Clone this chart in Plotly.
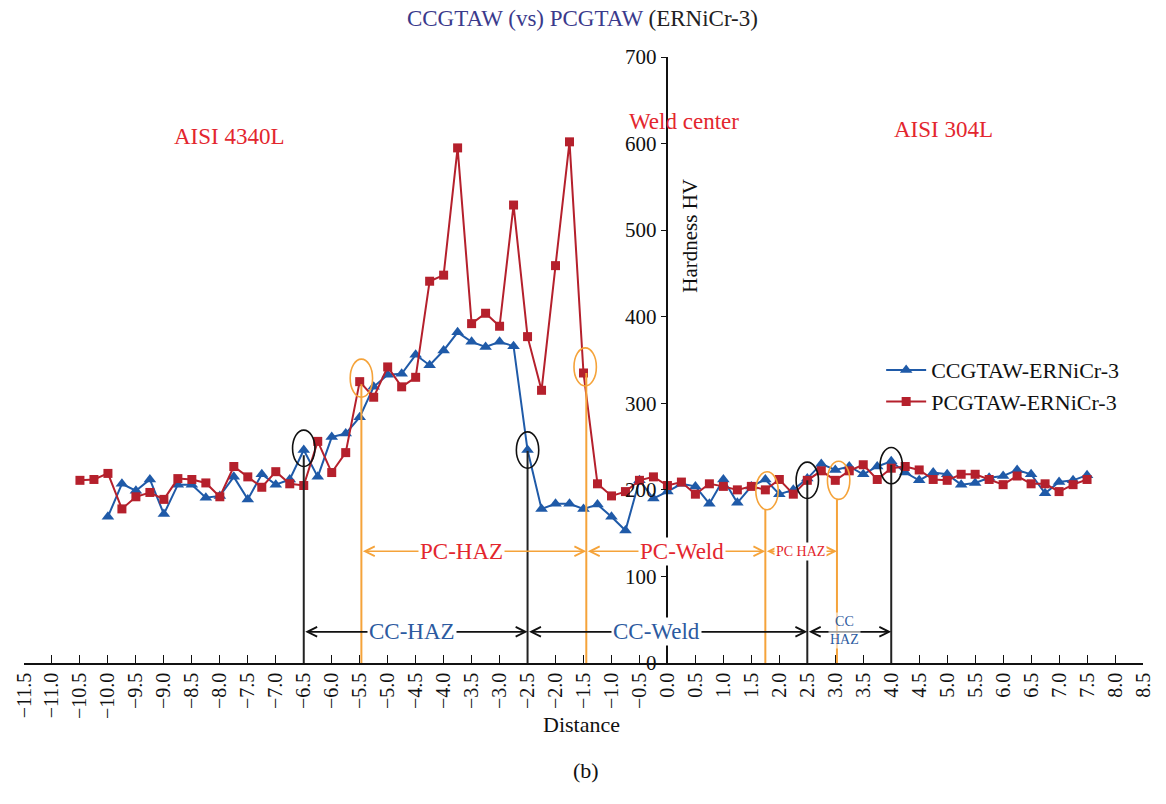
import plotly.graph_objects as go

# ---------------- data ----------------
dist_pc = [-10.5, -10.25, -10.0, -9.75, -9.5, -9.25, -9.0, -8.75, -8.5, -8.25,
           -8.0, -7.75, -7.5, -7.25, -7.0, -6.75, -6.5, -6.25, -6.0, -5.75,
           -5.5, -5.25, -5.0, -4.75, -4.5, -4.25, -4.0, -3.75, -3.5, -3.25,
           -3.0, -2.75, -2.5, -2.25, -2.0, -1.75, -1.5, -1.25, -1.0, -0.75,
           -0.5, -0.25, 0.0, 0.25, 0.5, 0.75, 1.0, 1.25, 1.5, 1.75,
           2.0, 2.25, 2.5, 2.75, 3.0, 3.25, 3.5, 3.75, 4.0, 4.25,
           4.5, 4.75, 5.0, 5.25, 5.5, 5.75, 6.0, 6.25, 6.5, 6.75,
           7.0, 7.25, 7.5]
hv_pc = [211, 212, 219, 178, 192, 197, 189, 213, 212, 208,
         192, 227, 215, 203, 221, 207, 205, 256, 220, 243,
         325, 307, 342, 319, 330, 441, 448, 595, 392, 404,
         389, 529, 377, 315, 459, 602, 335, 207, 193, 198,
         211, 215, 205, 209, 195, 207, 204, 200, 204, 200,
         212, 195, 211, 222, 211, 222, 229, 212, 225, 227,
         223, 212, 211, 218, 218, 212, 206, 216, 207, 207,
         198, 206, 212]

dist_cc = [-10.0, -9.75, -9.5, -9.25, -9.0, -8.75, -8.5, -8.25,
           -8.0, -7.75, -7.5, -7.25, -7.0, -6.75, -6.5, -6.25, -6.0, -5.75,
           -5.5, -5.25, -5.0, -4.75, -4.5, -4.25, -4.0, -3.75, -3.5, -3.25,
           -3.0, -2.75, -2.5, -2.25, -2.0, -1.75, -1.5, -1.25, -1.0, -0.75,
           -0.5, -0.25, 0.0, 0.25, 0.5, 0.75, 1.0, 1.25, 1.5, 1.75,
           2.0, 2.25, 2.5, 2.75, 3.0, 3.25, 3.5, 3.75, 4.0, 4.25,
           4.5, 4.75, 5.0, 5.25, 5.5, 5.75, 6.0, 6.25, 6.5, 6.75,
           7.0, 7.25, 7.5]
hv_cc = [169, 207, 199, 212, 172, 206, 206, 191,
         193, 215, 189, 218, 206, 212, 246, 215, 261, 265,
         284, 319, 333, 334, 356, 344, 361, 382, 371, 365,
         371, 366, 246, 178, 184, 184, 178, 183, 169, 153,
         211, 190, 198, 207, 204, 184, 212, 185, 204, 212,
         195, 200, 213, 230, 223, 227, 218, 227, 233, 220,
         211, 220, 218, 206, 208, 214, 216, 223, 218, 196,
         209, 211, 217]

# boundary markers: (x, top of line)
cc_bounds = [(-6.5, 240), (-2.5, 245), (2.5, 211), (4.0, 229)]
pc_bounds = [(-5.47, 322), (-1.45, 335), (1.75, 177), (3.03, 189)]
# circles: (cx, cy)
cc_circles = [(-6.5, 248), (-2.5, 246), (2.5, 211), (4.0, 228)]
pc_circles = [(-5.47, 329), (-1.47, 342), (1.78, 199), (3.06, 211)]

pc_zones = [("PC-HAZ", -5.47, -1.45, -3.68), ("PC-Weld", -1.45, 1.75, 0.26),
            ("PC HAZ", 1.75, 3.03, 2.37)]
cc_zones = [("CC-HAZ", -6.5, -2.5, -4.57), ("CC-Weld", -2.5, 2.5, -0.2),
            ("CC<br>HAZ", 2.5, 4.0, 3.16)]

FONT = "Liberation Serif"
BLUE = "#1f5aa8"
RED = "#b5202c"
ORANGE = "#f5a33a"
TXT_RED = "#e3262e"
TXT_BLUE = "#2c5aa0"

fig = go.Figure()
fig.add_trace(go.Scatter(x=dist_cc, y=hv_cc, mode="lines+markers",
                         name="CCGTAW-ERNiCr-3",
                         line=dict(color=BLUE, width=2),
                         marker=dict(symbol="triangle-up", size=11, color=BLUE)))
fig.add_trace(go.Scatter(x=dist_pc, y=hv_pc, mode="lines+markers",
                         name="PCGTAW-ERNiCr-3",
                         line=dict(color=RED, width=2),
                         marker=dict(symbol="square", size=9, color=RED)))

shapes = []
for x, top in cc_bounds:
    shapes.append(dict(type="line", xref="x", yref="y", x0=x, x1=x, y0=0, y1=top,
                       line=dict(color="#222222", width=2)))
for x, top in pc_bounds:
    shapes.append(dict(type="line", xref="x", yref="y", x0=x, x1=x, y0=0, y1=top,
                       line=dict(color=ORANGE, width=2)))
for cx, cy in cc_circles:
    shapes.append(dict(type="circle", xref="x", yref="y", x0=cx - 0.2, x1=cx + 0.2,
                       y0=cy - 21, y1=cy + 21, line=dict(color="#111111", width=1.6)))
for cx, cy in pc_circles:
    shapes.append(dict(type="circle", xref="x", yref="y", x0=cx - 0.2, x1=cx + 0.2,
                       y0=cy - 22, y1=cy + 22, line=dict(color=ORANGE, width=1.6)))

ann = []
# arrows
for _, a, b, _ in pc_zones:
    ann.append(dict(x=b, y=129, ax=a, ay=129, xref="x", yref="y", axref="x", ayref="y",
                    showarrow=True, arrowside="end+start", arrowhead=5, startarrowhead=5,
                    arrowsize=1.2, startarrowsize=1.2, arrowwidth=1.6, arrowcolor=ORANGE,
                    standoff=0, startstandoff=0, text=""))
for _, a, b, _ in cc_zones:
    ann.append(dict(x=b, y=36, ax=a, ay=36, xref="x", yref="y", axref="x", ayref="y",
                    showarrow=True, arrowside="end+start", arrowhead=5, startarrowhead=5,
                    arrowsize=1.2, startarrowsize=1.2, arrowwidth=1.6, arrowcolor="#111111",
                    standoff=0, startstandoff=0, text=""))
# zone labels
for i, (t, a, b, c) in enumerate(pc_zones):
    ann.append(dict(x=c, y=129, xref="x", yref="y", text=t, showarrow=False,
                    bgcolor="white", borderpad=1,
                    font=dict(family=FONT, size=14 if i == 2 else 23, color=TXT_RED)))
for i, (t, a, b, c) in enumerate(cc_zones):
    ann.append(dict(x=c, y=36 if i < 2 else 38, xref="x", yref="y", text=t, showarrow=False,
                    bgcolor="white" if i < 2 else "rgba(255,255,255,0.6)", borderpad=1,
                    font=dict(family=FONT, size=14 if i == 2 else 23, color=TXT_BLUE)))
# region labels
ann.append(dict(x=-7.83, y=608, xref="x", yref="y", text="AISI 4340L", showarrow=False,
                font=dict(family=FONT, size=23, color=TXT_RED)))
ann.append(dict(x=0.29, y=625, xref="x", yref="y", text="Weld center", showarrow=False,
                font=dict(family=FONT, size=23, color=TXT_RED)))
ann.append(dict(x=4.93, y=616, xref="x", yref="y", text="AISI 304L", showarrow=False,
                font=dict(family=FONT, size=23, color=TXT_RED)))
ann.append(dict(x=0.41, y=494, xref="x", yref="y", text="Hardness HV", showarrow=False,
                textangle=-90, font=dict(family=FONT, size=21, color="#111111")))
ann.append(dict(x=0.498, y=-0.102, xref="paper", yref="paper", text="Distance",
                xanchor="center", yanchor="middle",
                showarrow=False, font=dict(family=FONT, size=22, color="#111111")))
ann.append(dict(x=0.502, y=-0.178, xref="paper", yref="paper", text="(b)",
                xanchor="center", yanchor="middle",
                showarrow=False, font=dict(family=FONT, size=22, color="#111111")))

fig.update_layout(
    width=1166, height=804,
    margin=dict(l=18, r=20, t=57, b=141),
    paper_bgcolor="white", plot_bgcolor="white",
    font=dict(family=FONT, color="#111111"),
    title=dict(text="<span style='color:#3a3a8c'>CCGTAW (vs) PCGTAW</span> (ERNiCr-3)",
               x=0.4995, xanchor="center", y=0.978, yanchor="middle", yref="container",
               font=dict(family=FONT, size=23, color="#222222")),
    legend=dict(x=0.766, y=0.518, xanchor="left", yanchor="top", itemwidth=40,
                font=dict(family=FONT, size=22, color="#111111"),
                bgcolor="rgba(0,0,0,0)", tracegroupgap=4),
    shapes=shapes, annotations=ann,
    xaxis=dict(range=[-11.5, 8.5], tick0=-11.5, dtick=0.5, tickformat=".1f",
               tickangle=-90, ticks="inside", ticklen=8, tickwidth=1.3, tickcolor="#111111",
               showline=True, linecolor="#111111", linewidth=1.5, showgrid=False,
               zeroline=False, tickfont=dict(family=FONT, size=20, color="#111111")),
    yaxis=dict(range=[0, 700], dtick=100, ticks="outside", ticklen=6, tickwidth=1.3,
               tickcolor="#111111", showline=True, linecolor="#111111", linewidth=1.5,
               anchor="free", position=0.575, showgrid=False, zeroline=False,
               tickfont=dict(family=FONT, size=21, color="#111111")),
)

fig.write_html("out.html")
